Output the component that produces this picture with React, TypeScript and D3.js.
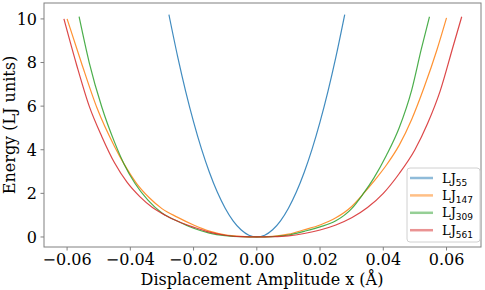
import React from "react";
import * as d3 from "d3";

const W = 485;
const H = 290;
const margin = { left: 44, right: 4, top: 3, bottom: 43 };

// x ticks / y ticks as shown on the axes
const xTicks = [-0.06, -0.04, -0.02, 0, 0.02, 0.04, 0.06];
const yTicks = [0, 2, 4, 6, 8, 10];

// LJ55 (blue)
const lj55X = [-0.0278, -0.025, -0.0225, -0.02, -0.0175, -0.015, -0.0125, -0.01, -0.0075, -0.005, -0.0025, 0,
  0.0025, 0.005, 0.0075, 0.01, 0.0125, 0.015, 0.0175, 0.02, 0.0225, 0.025, 0.0278];
const lj55E = [10.2, 8.25, 6.68, 5.28, 4.04, 2.97, 2.06, 1.32, 0.74, 0.33, 0.08, 0,
  0.08, 0.33, 0.74, 1.32, 2.06, 2.97, 4.04, 5.28, 6.68, 8.25, 10.2];

// LJ147 (orange)
const lj147X = [-0.06, -0.0555, -0.0505, -0.045, -0.042, -0.038, -0.034, -0.03, -0.025, -0.02, -0.015, -0.01, -0.005, 0,
  0.005, 0.01, 0.015, 0.02, 0.025, 0.03, 0.0335, 0.037, 0.041, 0.045, 0.049, 0.053, 0.057, 0.06];
const lj147E = [10.0, 8.0, 5.9, 4.15, 3.35, 2.45, 1.8, 1.3, 0.9, 0.55, 0.27, 0.1, 0.025, 0,
  0.03, 0.13, 0.33, 0.55, 0.88, 1.4, 1.95, 2.55, 3.3, 4.2, 5.4, 6.9, 8.6, 10.05];

// LJ309 (green)
const lj309X = [-0.0562, -0.053, -0.049, -0.045, -0.042, -0.0385, -0.0345, -0.03, -0.025, -0.02, -0.015, -0.01, -0.005, 0,
  0.005, 0.01, 0.015, 0.02, 0.025, 0.03, 0.0335, 0.037, 0.041, 0.045, 0.049, 0.052, 0.0546];
const lj309E = [10.1, 8.0, 5.95, 4.35, 3.35, 2.45, 1.7, 1.1, 0.72, 0.4, 0.18, 0.06, 0.01, 0,
  0.02, 0.09, 0.26, 0.46, 0.74, 1.3, 1.95, 2.7, 3.75, 5.0, 6.75, 8.6, 10.1];

// LJ561 (red)
const lj561X = [-0.061, -0.057, -0.053, -0.049, -0.045, -0.041, -0.037, -0.033, -0.029, -0.025, -0.02, -0.015, -0.01, -0.005, 0,
  0.005, 0.01, 0.015, 0.02, 0.025, 0.03, 0.035, 0.04, 0.045, 0.05, 0.054, 0.058, 0.062, 0.0648];
const lj561E = [10.0, 7.9, 6.0, 4.6, 3.4, 2.5, 1.85, 1.35, 1.0, 0.72, 0.45, 0.22, 0.08, 0.015, 0,
  0.01, 0.05, 0.16, 0.32, 0.55, 0.88, 1.35, 2.0, 2.9, 4.0, 5.2, 6.7, 8.7, 10.1];

const series = [
  { sub: "55", color: "#1f77b4", xs: lj55X, es: lj55E },
  { sub: "147", color: "#ff7f0e", xs: lj147X, es: lj147E },
  { sub: "309", color: "#2ca02c", xs: lj309X, es: lj309E },
  { sub: "561", color: "#d62728", xs: lj561X, es: lj561E },
];

const serif = "'DejaVu Serif', serif";
const sans = "'DejaVu Sans', sans-serif";

export default function App() {
  const x = d3.scaleLinear().domain([-0.0673, 0.0709]).range([margin.left, W - margin.right]);
  const y = d3.scaleLinear().domain([-0.46, 10.73]).range([H - margin.bottom, margin.top]);

  const line = d3
    .line<[number, number]>()
    .x((d) => x(d[0]))
    .y((d) => y(d[1]))
    .curve(d3.curveMonotoneX);

  const fmt = (v: number) => {
    const s = Math.abs(v).toFixed(2);
    return v < 0 ? "\u2212" + s : s;
  };

  const x0 = margin.left;
  const x1 = W - margin.right;
  const y0 = H - margin.bottom;
  const y1 = margin.top;

  return (
    <svg width={W} height={H} style={{ position: "fixed", left: 0, top: 0, background: "#fff" }}>
      {series.map((s) => (
        <path
          key={s.sub}
          d={line(s.xs.map((v, i) => [v, s.es[i]] as [number, number])) || ""}
          fill="none"
          stroke={s.color}
          strokeOpacity={0.85}
          strokeWidth={1.2}
        />
      ))}

      {/* spines */}
      <rect x={x0} y={y1} width={x1 - x0} height={y0 - y1} fill="none" stroke="#808080" strokeWidth={1} />

      {/* x axis */}
      {xTicks.map((t) => (
        <g key={t}>
          <line x1={x(t)} x2={x(t)} y1={y0} y2={y0 + 3.5} stroke="#808080" />
          <text x={x(t)} y={y0 + 17.5} textAnchor="middle" fontFamily={serif} fontSize={16} fill="#000">
            {fmt(t)}
          </text>
        </g>
      ))}
      {/* y axis */}
      {yTicks.map((t) => (
        <g key={t}>
          <line x1={x0 - 3.5} x2={x0} y1={y(t)} y2={y(t)} stroke="#808080" />
          <text x={x0 - 7} y={y(t) + 5.8} textAnchor="end" fontFamily={serif} fontSize={16} fill="#000">
            {t}
          </text>
        </g>
      ))}

      <text x={262} y={285} textAnchor="middle" fontFamily={serif} fontSize={16} fill="#000">
        Displacement Amplitude x (Å)
      </text>
      <text
        transform={`translate(15,${(y0 + y1) / 2}) rotate(-90)`}
        textAnchor="middle"
        fontFamily={serif}
        fontSize={16}
        fill="#000"
      >
        Energy (LJ units)
      </text>

      {/* legend */}
      <rect x={407} y={168} width={73} height={74} rx={3} fill="#fff" fillOpacity={0.8} stroke="#d0d0d0" />
      {series.map((s, i) => {
        const ry = 178 + i * 17.4;
        return (
          <g key={s.sub}>
            <line x1={410} x2={433} y1={ry} y2={ry} stroke={s.color} strokeWidth={2.5} strokeOpacity={0.5} />
            <text x={442} y={ry + 4.5} fontFamily={serif} fontSize={13} fill="#000">
              LJ
              <tspan fontFamily={sans} fontSize={9} dy={3}>
                {s.sub}
              </tspan>
            </text>
          </g>
        );
      })}
    </svg>
  );
}
